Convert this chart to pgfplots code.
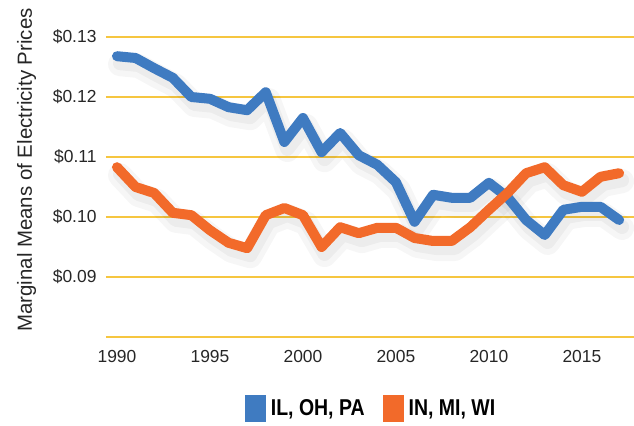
\documentclass[border=0pt]{standalone}
\usepackage{pgfplots}
\pgfplotsset{compat=1.18}
\usepackage{fontspec}
\setmainfont{Liberation Sans}
\newfontfamily\legfont[FakeStretch=0.85]{Liberation Sans}
\definecolor{cblue}{HTML}{3F7BC1}
\definecolor{corange}{HTML}{F26A2A}
\definecolor{cgrid}{HTML}{F6C640}
\pgfplotstableread{
year blue orange
1990 0.1268 0.1083
1991 0.1265 0.1050
1992 0.1248 0.1040
1993 0.1232 0.1007
1994 0.1200 0.1003
1995 0.1197 0.0978
1996 0.1183 0.0957
1997 0.1178 0.0948
1998 0.1208 0.1003
1999 0.1125 0.1015
2000 0.1165 0.1003
2001 0.1108 0.0950
2002 0.1140 0.0983
2003 0.1103 0.0973
2004 0.1087 0.0982
2005 0.1058 0.0982
2006 0.0992 0.0965
2007 0.1037 0.0960
2008 0.1032 0.0960
2009 0.1032 0.0983
2010 0.1057 0.1012
2011 0.1033 0.1040
2012 0.0995 0.1073
2013 0.0970 0.1083
2014 0.1012 0.1053
2015 0.1017 0.1042
2016 0.1017 0.1067
2017 0.0995 0.1073
}\datatable
\begin{document}
\begin{tikzpicture}
\begin{axis}[
  name=ax,
  scale only axis,
  width=528bp, height=300bp,
  xmin=1989.41, xmax=2017.8,
  ymin=0.08, ymax=0.13,
  axis line style={draw=none},
  tick style={draw=none},
  xtick={1990,1995,2000,2005,2010,2015},
  xticklabels={1990,1995,2000,2005,2010,2015},
  ytick={0.08,0.09,0.10,0.11,0.12,0.13},
  yticklabels={{},\$0.09,\$0.10,\$0.11,\$0.12,\$0.13},
  ymajorgrids,
  major grid style={cgrid, line width=1.1bp},
  tick label style={font=\fontsize{17.5}{20}\selectfont, text=black!85},
  xticklabel style={yshift=-10bp},
  yticklabel style={xshift=-6bp},
  ylabel={Marginal Means of Electricity Prices},
  ylabel style={font=\fontsize{20.5}{24}\selectfont, text=black!85, yshift=10bp, xshift=17bp},
  legend style={at={(0.502,-0.237)}, anchor=center, draw=none, fill=none,
    font=\legfont\bfseries\fontsize{23}{25}\selectfont, legend columns=2,
    /tikz/every odd column/.append style={column sep=3bp},
    /tikz/every even column/.append style={column sep=16bp}},
  legend image code/.code={\path[#1, draw=none, fill] (0bp,-13.5bp) rectangle (21bp,13.5bp);},
  clip=false,
]
\addplot[forget plot, black, opacity=0.035, line width=24bp, line join=round, line cap=round, transform canvas={yshift=-8bp, xshift=3bp}] table[x=year,y=blue] {\datatable};
\addplot[forget plot, black, opacity=0.04, line width=14bp, line join=round, line cap=round, transform canvas={yshift=-7bp, xshift=3bp}] table[x=year,y=blue] {\datatable};
\addplot[forget plot, black, opacity=0.035, line width=24bp, line join=round, line cap=round, transform canvas={yshift=-8bp, xshift=3bp}] table[x=year,y=orange] {\datatable};
\addplot[forget plot, black, opacity=0.04, line width=14bp, line join=round, line cap=round, transform canvas={yshift=-7bp, xshift=3bp}] table[x=year,y=orange] {\datatable};
\addplot[cblue, line width=10bp, line join=round, line cap=round] table[x=year,y=blue] {\datatable};
\addlegendentry{IL, OH, PA}
\addplot[corange, line width=10bp, line join=round, line cap=round] table[x=year,y=orange] {\datatable};
\addlegendentry{IN, MI, WI}
\end{axis}
\pgfresetboundingbox
\path[use as bounding box] (ax.south west) ++(-106bp,-89bp) rectangle ++(634bp,426bp);
\end{tikzpicture}
\end{document}
